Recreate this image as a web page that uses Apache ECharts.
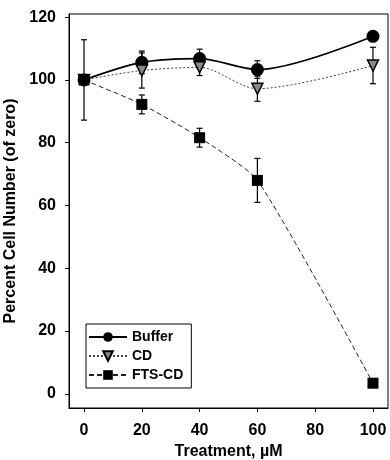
<!DOCTYPE html>
<html><head><meta charset="utf-8">
<script src="https://cdn.jsdelivr.net/npm/echarts@6/dist/echarts.min.js"></script>
<style>html,body{margin:0;padding:0;background:#fff}#c{width:390px;height:460px}</style>
</head><body><div id="c"></div>
<script>
const doses = [0, 20, 40, 60, 100];
const xTicks = [0, 20, 40, 60, 80, 100];
const yTicks = [0, 20, 40, 60, 80, 100, 120];
const buffer = [100, 105.6, 106.8, 103.3, 113.9];
const bufferErr = [12.8, 3.6, 3.0, 2.8, 0];
const cd = [100, 103.0, 104.0, 97.2, 104.6];
const cdErr = [0, 5.6, 2.6, 4.0, 5.8];
const fts = [100, 92.2, 81.6, 68.0, 3.4];
const ftsErr = [0, 3.0, 3.0, 7.0, 0];

const FONT = '"Liberation Sans", Arial, sans-serif';
const pts = (ys) => doses.map((d, i) => [d, ys[i]]);
const errData = (ys, es) => doses.map((d, i) => [d, ys[i] - es[i], ys[i] + es[i]]).filter(r => r[2] > r[1]);

function errSeries(ys, es) {
  return {
    type: 'custom', silent: true, z: 1,
    data: errData(ys, es),
    renderItem: function (params, api) {
      const lo = api.coord([api.value(0), api.value(1)]);
      const hi = api.coord([api.value(0), api.value(2)]);
      const w = 3;
      const st = { stroke: '#000', lineWidth: 1.2 };
      return { type: 'group', children: [
        { type: 'line', shape: { x1: lo[0], y1: lo[1], x2: hi[0], y2: hi[1] }, style: st },
        { type: 'line', shape: { x1: lo[0] - w, y1: lo[1], x2: lo[0] + w, y2: lo[1] }, style: st },
        { type: 'line', shape: { x1: hi[0] - w, y1: hi[1], x2: hi[0] + w, y2: hi[1] }, style: st }
      ]};
    }
  };
}

const chart = echarts.init(document.getElementById('c'));
chart.setOption({
  animation: false,
  backgroundColor: '#fff',
  grid: { left: 69, right: 2, top: 14, bottom: 52, show: true, borderColor: '#000', borderWidth: 1, outerBoundsMode: 'none', containLabel: false },
  xAxis: {
    type: 'value', min: -5.2, max: 105.2,
    name: 'Treatment, \u00b5M', nameLocation: 'middle', nameGap: 30,
    nameTextStyle: { fontFamily: FONT, fontSize: 16, fontWeight: 'bold', color: '#000' },
    axisLine: { onZero: false, lineStyle: { color: '#000', width: 1 } },
    axisTick: { show: true, inside: false, length: 4, customValues: xTicks, lineStyle: { color: '#000' } },
    axisLabel: { customValues: xTicks, fontFamily: FONT, fontSize: 16, fontWeight: 'bold', color: '#000', margin: 15 },
    splitLine: { show: false }
  },
  yAxis: {
    type: 'value', min: -4.5, max: 121,
    name: 'Percent Cell Number (of zero)', nameLocation: 'middle', nameGap: 41,
    nameTextStyle: { fontFamily: FONT, fontSize: 16, fontWeight: 'bold', color: '#000' },
    axisLine: { show: true, onZero: false, lineStyle: { color: '#000', width: 1 } },
    axisTick: { show: true, inside: false, length: 4, customValues: yTicks, lineStyle: { color: '#000' } },
    axisLabel: { customValues: yTicks, fontFamily: FONT, fontSize: 16, fontWeight: 'bold', color: '#000', margin: 13 },
    splitLine: { show: false }
  },
  legend: {
    orient: 'vertical', left: 86, top: 324,
    borderColor: '#000', borderWidth: 1, padding: [6, 8, 6, 2],
    itemWidth: 38, itemHeight: 12, itemGap: 5,
    textStyle: { fontFamily: FONT, fontSize: 14, fontWeight: 'bold', color: '#000' },
    data: ['Buffer', 'CD', 'FTS-CD']
  },
  series: [
    errSeries(buffer, bufferErr),
    errSeries(cd, cdErr),
    errSeries(fts, ftsErr),
    { name: 'Buffer', type: 'line', smooth: 0.3, data: pts(buffer), z: 4,
      symbol: 'circle', symbolSize: 13,
      lineStyle: { color: '#000', width: 1.6, type: 'solid' },
      itemStyle: { color: '#000' } },
    { name: 'CD', type: 'line', smooth: 0.3, data: pts(cd), z: 5,
      symbol: 'triangle', symbolSize: 11, symbolRotate: 180,
      lineStyle: { color: '#444', width: 1, type: [2, 2] },
      itemStyle: { color: '#888', borderColor: '#000', borderWidth: 1.5 } },
    { name: 'FTS-CD', type: 'line', smooth: 0.2, data: pts(fts), z: 6,
      symbol: 'rect', symbolSize: 11,
      lineStyle: { color: '#222', width: 1, type: [5, 3] },
      itemStyle: { color: '#000' } }
  ]
});
</script></body></html>
